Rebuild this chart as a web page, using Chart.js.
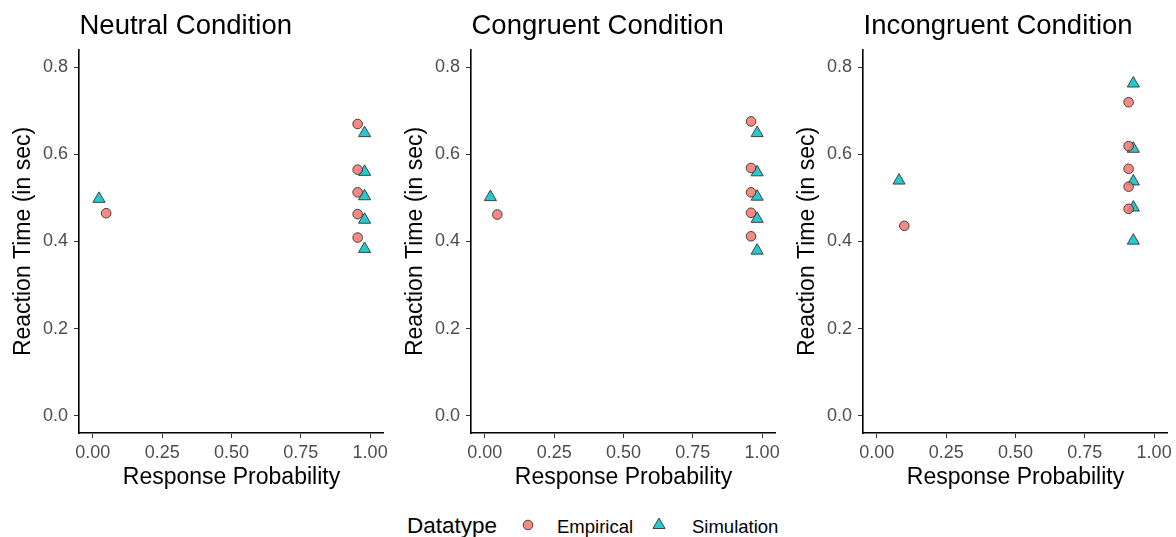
<!DOCTYPE html>
<html>
<head>
<meta charset="utf-8">
<script src="https://cdn.jsdelivr.net/npm/chart.js@4.4.1/dist/chart.umd.min.js"></script>
<style>
  html, body { margin: 0; padding: 0; background: #fff; }
  #wrap { position: relative; width: 1176px; height: 537px; overflow: hidden; font-family: "Liberation Sans", Arial, sans-serif; }
  canvas { position: absolute; top: 0; }
  .lg { position: absolute; white-space: nowrap; color: #000; }
  .lgTitle { font-size: 22.5px; line-height: 22.5px; }
  .lgLabel { font-size: 18.5px; line-height: 18.5px; }
  svg.mk { position: absolute; }
</style>
</head>
<body>
<div id="wrap">
  <canvas id="c0" width="392" height="500" style="left:0px"></canvas>
  <canvas id="c1" width="392" height="500" style="left:392px"></canvas>
  <canvas id="c2" width="392" height="500" style="left:784px"></canvas>
  <div id="legend"></div>
</div>
<script>
// ---------- data ----------
const panelTitles = ['Neutral Condition', 'Congruent Condition', 'Incongruent Condition'];
const seriesNames = ['Empirical', 'Simulation'];
const legendTitle = 'Datatype';
const xAxisTitle = 'Response Probability';
const yAxisTitle = 'Reaction Time (in sec)';

const xTickValues = [0, 0.25, 0.5, 0.75, 1.0];
const xTickLabels = ['0.00', '0.25', '0.50', '0.75', '1.00'];
const yTickValues = [0, 0.2, 0.4, 0.6, 0.8];
const yTickLabels = ['0.0', '0.2', '0.4', '0.6', '0.8'];

// Neutral
const neutralEmpX = [0.048, 0.955, 0.955, 0.955, 0.955, 0.955];
const neutralEmpY = [0.465, 0.670, 0.565, 0.513, 0.463, 0.409];
const neutralSimX = [0.022, 0.980, 0.980, 0.980, 0.980, 0.980];
const neutralSimY = [0.498, 0.649, 0.560, 0.504, 0.450, 0.383];

// Congruent
const congruentEmpX = [0.045, 0.960, 0.960, 0.960, 0.960, 0.960];
const congruentEmpY = [0.462, 0.676, 0.569, 0.513, 0.466, 0.412];
const congruentSimX = [0.020, 0.982, 0.982, 0.982, 0.982, 0.982];
const congruentSimY = [0.502, 0.649, 0.559, 0.503, 0.452, 0.379];

// Incongruent
const incongruentEmpX = [0.099, 0.908, 0.908, 0.908, 0.908, 0.908];
const incongruentEmpY = [0.436, 0.720, 0.619, 0.567, 0.526, 0.475];
const incongruentSimX = [0.080, 0.925, 0.925, 0.925, 0.925, 0.925];
const incongruentSimY = [0.540, 0.763, 0.613, 0.538, 0.478, 0.402];

const panelData = [
  [neutralEmpX, neutralEmpY, neutralSimX, neutralSimY],
  [congruentEmpX, congruentEmpY, congruentSimX, congruentSimY],
  [incongruentEmpX, incongruentEmpY, incongruentSimX, incongruentSimY]
];

// ---------- styles ----------
const FONT = '"Liberation Sans", Arial, sans-serif';
const empFill = 'rgba(248,118,109,0.85)';
const simFill = 'rgba(0,191,196,0.85)';
const markerBorder = '#333333';

const toPts = (xs, ys) => xs.map((x, i) => ({ x: x, y: ys[i] }));

const panelTitlePlugin = {
  id: 'panelTitle',
  afterDraw(chart, args, opts) {
    const ctx = chart.ctx;
    ctx.save();
    ctx.font = '27.5px ' + FONT;
    ctx.fillStyle = '#000';
    ctx.textAlign = 'left';
    ctx.textBaseline = 'alphabetic';
    ctx.fillText(opts.text, chart.chartArea.left + 0.5, 33.5);
    ctx.restore();
  }
};

function makeChart(idx) {
  const d = panelData[idx];
  const ctx = document.getElementById('c' + idx).getContext('2d');
  return new Chart(ctx, {
    type: 'scatter',
    data: {
      datasets: [
        {
          label: seriesNames[0],
          data: toPts(d[0], d[1]),
          pointStyle: 'circle',
          pointRadius: 4.8,
          pointHoverRadius: 4.8,
          backgroundColor: empFill,
          borderColor: markerBorder,
          borderWidth: 0.9
        },
        {
          label: seriesNames[1],
          data: toPts(d[2], d[3]),
          pointStyle: 'triangle',
          pointRadius: 7,
          pointHoverRadius: 7,
          backgroundColor: simFill,
          borderColor: markerBorder,
          borderWidth: 0.9
        }
      ]
    },
    options: {
      responsive: false,
      animation: false,
      devicePixelRatio: 1,
      layout: { padding: { top: 50, right: 7, left: 0, bottom: 0 } },
      plugins: {
        legend: { display: false },
        tooltip: { enabled: false },
        panelTitle: { text: panelTitles[idx] }
      },
      events: [],
      scales: {
        x: {
          type: 'linear',
          min: -0.05,
          max: 1.05,
          afterBuildTicks: (s) => { s.ticks = xTickValues.map(v => ({ value: v })); },
          afterFit: (s) => { s.height = 67; },
          ticks: {
            callback: (v) => xTickLabels[xTickValues.indexOf(v)],
            font: { family: FONT, size: 18 },
            color: '#4D4D4D',
            padding: 4,
            maxRotation: 0,
            autoSkip: false
          },
          grid: { display: true, drawOnChartArea: false, drawTicks: true, tickLength: 5, color: '#333', lineWidth: 1 },
          border: { display: true, color: '#000', width: 1.6 },
          title: {
            display: true,
            text: xAxisTitle,
            font: { family: FONT, size: 23 },
            color: '#000',
            padding: { top: 0, bottom: 9 }
          }
        },
        y: {
          type: 'linear',
          min: -0.04,
          max: 0.84,
          afterBuildTicks: (s) => { s.ticks = yTickValues.map(v => ({ value: v })); },
          afterFit: (s) => { s.width = 79; },
          ticks: {
            callback: (v) => yTickLabels[yTickValues.indexOf(v)],
            font: { family: FONT, size: 18 },
            color: '#4D4D4D',
            padding: 6,
            autoSkip: false
          },
          grid: { display: true, drawOnChartArea: false, drawTicks: true, tickLength: 5, color: '#333', lineWidth: 1 },
          border: { display: true, color: '#000', width: 1.6 },
          title: {
            display: true,
            text: yAxisTitle,
            font: { family: FONT, size: 23 },
            color: '#000',
            padding: { top: 10, bottom: 0 }
          }
        }
      }
    },
    plugins: [panelTitlePlugin]
  });
}

[0, 1, 2].forEach(makeChart);

// ---------- legend ----------
(function buildLegend() {
  const lg = document.getElementById('legend');
  const t = document.createElement('div');
  t.className = 'lg lgTitle';
  t.style.left = '407px';
  t.style.top = '514.5px';
  t.textContent = legendTitle;
  lg.appendChild(t);

  const svgNS = 'http://www.w3.org/2000/svg';
  function marker(kind, cx, cy) {
    const s = document.createElementNS(svgNS, 'svg');
    s.setAttribute('class', 'mk');
    s.setAttribute('width', '20');
    s.setAttribute('height', '20');
    s.style.left = (cx - 10) + 'px';
    s.style.top = (cy - 10) + 'px';
    let el;
    if (kind === 'circle') {
      el = document.createElementNS(svgNS, 'circle');
      el.setAttribute('cx', '10'); el.setAttribute('cy', '10'); el.setAttribute('r', '4.8');
      el.setAttribute('fill', empFill);
    } else {
      el = document.createElementNS(svgNS, 'polygon');
      const r = 7;
      const pts = [[10, 10 - r], [10 + r * Math.sin(2 * Math.PI / 3), 10 + r / 2], [10 - r * Math.sin(2 * Math.PI / 3), 10 + r / 2]];
      el.setAttribute('points', pts.map(p => p.join(',')).join(' '));
      el.setAttribute('fill', simFill);
    }
    el.setAttribute('stroke', markerBorder);
    el.setAttribute('stroke-width', '0.9');
    s.appendChild(el);
    lg.appendChild(s);
  }
  marker('circle', 528, 525);
  marker('triangle', 659, 525);

  const l1 = document.createElement('div');
  l1.className = 'lg lgLabel';
  l1.style.left = '557px';
  l1.style.top = '517.5px';
  l1.textContent = seriesNames[0];
  lg.appendChild(l1);

  const l2 = document.createElement('div');
  l2.className = 'lg lgLabel';
  l2.style.left = '692px';
  l2.style.top = '517.5px';
  l2.textContent = seriesNames[1];
  lg.appendChild(l2);
})();
</script>
</body>
</html>
